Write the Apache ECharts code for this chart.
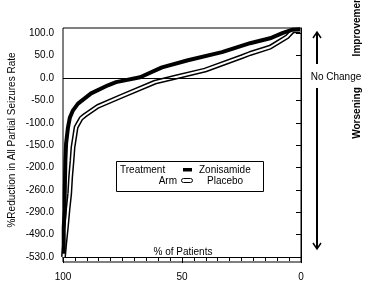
<!DOCTYPE html>
<html><head><meta charset="utf-8">
<script src="https://cdn.jsdelivr.net/npm/echarts@6/dist/echarts.min.js"></script>
<style>html,body{margin:0;padding:0;background:#fff}#c{width:365px;height:289px}</style>
</head><body><div id="c"></div>
<script>
// Y tick labels (evenly spaced on the original, non-linear values)
var yTicks = [-530, -490, -290, -260, -200, -150, -100, -50, 0, 50, 100];
var xTicks = [100, 50, 0];
// Zonisamide: % of patients vs % reduction
var zonPatients = [99.7, 99.7, 99.3, 99.3, 99.0, 98.7, 97.9, 97.1, 95.8, 93.7, 88.2, 81.1, 77.7, 67.6, 58.4, 47.5, 33.2, 21.4, 13.0, 7.6, 3.8, 0.4];
var zonValues   = [-524, -426, -286, -268, -184, -146, -110, -88, -72, -57, -34, -16, -9, 2, 24, 40, 58, 78, 89, 101, 108, 109];
// Placebo
var plaPatients = [99.8, 99.3, 98.6, 97.9, 97.2, 96.8, 96.2, 95.8, 94.5, 92.4, 90.8, 85.3, 75.2, 61.3, 52.9, 40.3, 24.8, 21.4, 13.0, 5.9, 3.4, 0.4];
var plaValues   = [-530, -506, -426, -286, -265, -226, -184, -155, -110, -90, -83, -63, -40, -9, 2, 18, 48, 55, 69, 92, 106, 106];

function toPos(v) {
  if (v >= yTicks[yTicks.length - 1]) return (yTicks.length - 1) + (v - yTicks[yTicks.length - 1]) / 50;
  for (var i = 0; i < yTicks.length - 1; i++) {
    if (v >= yTicks[i] && v <= yTicks[i + 1]) return i + (v - yTicks[i]) / (yTicks[i + 1] - yTicks[i]);
  }
  return 0;
}
function pairs(px, vals) { return px.map(function (p, i) { return [p, toPos(vals[i])]; }); }

var F = 'Liberation Sans, Arial, sans-serif';
var chart = echarts.init(document.getElementById('c'));
chart.setOption({
  animation: false,
  grid: { left: 63, right: 64, top: 28, bottom: 27, show: true, borderColor: '#000', borderWidth: 1 },
  xAxis: {
    type: 'value', inverse: true, min: 0, max: 100, interval: 50,
    axisLine: { lineStyle: { color: '#000' } },
    axisTick: { show: true, length: 6, lineStyle: { color: '#000' } },
    minorTick: { show: true, splitNumber: 10, length: 4, lineStyle: { color: '#000' } },
    axisLabel: { color: '#000', fontFamily: F, fontSize: 10, margin: 10 },
    splitLine: { show: false }
  },
  yAxis: {
    type: 'value', min: -0.22, max: 10.24,
    axisLine: { show: true, lineStyle: { color: '#000' } },
    axisTick: { show: true, length: 5, customValues: yTicks.map(function (t, i) { return i; }), lineStyle: { color: '#000' } },
    axisLabel: {
      color: '#000', fontFamily: F, fontSize: 10, margin: 9,
      customValues: yTicks.map(function (t, i) { return i; }),
      formatter: function (v) { var i = Math.round(v); return yTicks[i].toFixed(1); }
    },
    splitLine: { show: false }
  },
  series: [
    { type: 'line', name: 'Placebo', data: pairs(plaPatients, plaValues), symbol: 'none', z: 2,
      lineStyle: { color: '#000', width: 5 },
      markLine: { silent: true, symbol: 'none', label: { show: false },
        lineStyle: { color: '#000', width: 1, type: 'solid' }, data: [{ yAxis: toPos(0) }] } },
    { type: 'line', name: 'PlaceboInner', data: pairs(plaPatients, plaValues), symbol: 'none', z: 3,
      lineStyle: { color: '#fff', width: 2 } },
    { type: 'line', name: 'Zonisamide', data: pairs(zonPatients, zonValues), symbol: 'none', z: 4,
      lineStyle: { color: '#000', width: 4 } }
  ],
  graphic: [
    { type: 'text', x: 12, y: 140, rotation: Math.PI / 2, style: { text: '%Reduction in All Partial Seizures Rate', font: '10px ' + F, fill: '#000', align: 'center', verticalAlign: 'middle' } },
    { type: 'text', x: 183, y: 252, style: { text: '% of Patients', font: '10px ' + F, fill: '#000', align: 'center', verticalAlign: 'middle' } },
    { type: 'rect', shape: { x: 116.5, y: 161.5, width: 147, height: 30 }, style: { fill: '#fff', stroke: '#000', lineWidth: 1 } },
    { type: 'text', x: 120, y: 170, style: { text: 'Treatment', font: '10px ' + F, fill: '#000', verticalAlign: 'middle' } },
    { type: 'text', x: 177, y: 181, style: { text: 'Arm', font: '10px ' + F, fill: '#000', align: 'right', verticalAlign: 'middle' } },
    { type: 'rect', shape: { x: 183, y: 168, width: 9, height: 3.5 }, style: { fill: '#000' } },
    { type: 'rect', shape: { x: 181.5, y: 178.5, width: 11, height: 4, r: 2 }, style: { fill: '#fff', stroke: '#000', lineWidth: 1 } },
    { type: 'text', x: 199, y: 170, style: { text: 'Zonisamide', font: '10px ' + F, fill: '#000', verticalAlign: 'middle' } },
    { type: 'text', x: 207, y: 181, style: { text: 'Placebo', font: '10px ' + F, fill: '#000', verticalAlign: 'middle' } },
    // arrows
    { type: 'line', shape: { x1: 317, y1: 64, x2: 317, y2: 33 }, style: { stroke: '#000', lineWidth: 2 } },
    { type: 'polyline', shape: { points: [[313, 38], [317, 32], [321, 38]] }, style: { stroke: '#000', lineWidth: 1.5, fill: null } },
    { type: 'line', shape: { x1: 317, y1: 88, x2: 317, y2: 248 }, style: { stroke: '#000', lineWidth: 2 } },
    { type: 'polyline', shape: { points: [[313, 243], [317, 249], [321, 243]] }, style: { stroke: '#000', lineWidth: 1.5, fill: null } },
    { type: 'text', x: 336, y: 77, style: { text: 'No Change', font: '10px ' + F, fill: '#000', align: 'center', verticalAlign: 'middle' } },
    { type: 'text', x: 357, y: 25, rotation: Math.PI / 2, style: { text: 'Improvement', font: 'bold 10px ' + F, fill: '#000', align: 'center', verticalAlign: 'middle' } },
    { type: 'text', x: 357, y: 113, rotation: Math.PI / 2, style: { text: 'Worsening', font: 'bold 10px ' + F, fill: '#000', align: 'center', verticalAlign: 'middle' } }
  ]
});
</script></body></html>
